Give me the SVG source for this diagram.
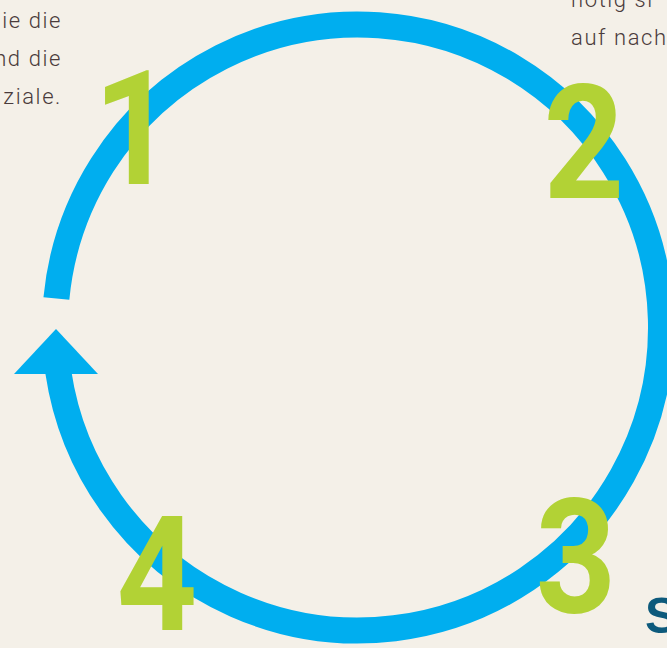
<svg xmlns="http://www.w3.org/2000/svg" width="667" height="648" viewBox="0 0 667 648">
  <style>
    .body { font-family: Roboto, "Liberation Sans", sans-serif; font-weight: 300; font-size: 22px; fill: #4a3b3b; letter-spacing: 1.6px; }
    .num { font-family: Roboto, "Liberation Sans", sans-serif; font-weight: 700; font-size: 160px; fill: #b2d235; text-anchor: middle; }
    .ring { fill: none; stroke: #00aeef; stroke-width: 26; }
    .head { fill: #00aeef; }
    .title { font-family: "Liberation Sans", Arial, sans-serif; font-weight: bold; font-size: 50px; fill: #0d5a7c; }
  </style>
  <rect width="667" height="648" fill="#f4f0e8"/>
  <g id="text-left" class="body" text-anchor="end">
    <text x="62" y="28">ie die</text>
    <text x="62" y="66">nd die</text>
    <text x="62" y="104">ziale.</text>
  </g>
  <g id="text-right" class="body">
    <text x="571" y="7">nötig si</text>
    <text x="571" y="45">auf nach</text>
  </g>
  <g id="connectors">
    <path class="ring" d="M 58.3 372 A 303 303 0 1 0 56.4 298.4"/>
    <polygon class="head" points="56,329 14,374 98,374"/>
  </g>
  <g id="step1"><text class="num" transform="translate(134 184) scale(0.88 1)">1</text></g>
  <g id="step2"><text class="num" transform="translate(584 198) scale(0.88 1)">2</text></g>
  <g id="step3"><text class="num" transform="translate(576 612) scale(0.88 1)">3</text></g>
  <g id="step4"><text class="num" transform="translate(157 630) scale(0.88 1)">4</text></g>
  <g id="title"><text class="title" x="645" y="633">S</text></g>
</svg>
